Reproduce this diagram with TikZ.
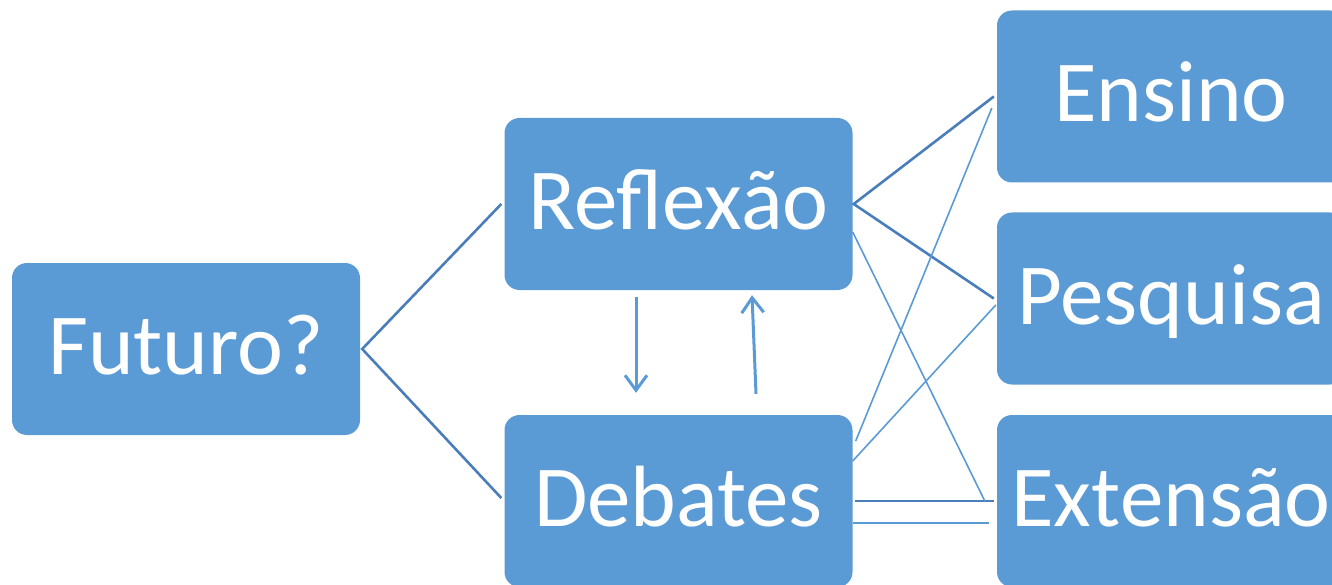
\documentclass[tikz,border=0pt]{standalone}
\usepackage{fontspec}
\setmainfont{Carlito}
\usetikzlibrary{arrows.meta}
\definecolor{boxblue}{HTML}{5B9BD5}
\definecolor{linkdark}{HTML}{4A7EBB}
\begin{document}
\begin{tikzpicture}[x=1pt,y=-1pt,
  box/.style={fill=boxblue, draw=none, rounded corners=15pt, minimum width=348pt, minimum height=172pt,
    inner sep=0pt, text=white, font=\fontsize{87}{100}\selectfont, text height=61pt, text depth=10pt},
  thicklink/.style={draw=linkdark, line width=2.6pt},
  thinlink/.style={draw=boxblue, line width=1.6pt},
  flow/.style={draw=boxblue, line width=3pt, -{Straight Barb[length=15pt,width=22pt,line width=3pt]}}]
\useasboundingbox (0,0) rectangle (1332,585);
\clip (0,0) rectangle (1332,585);
\fill[white] (0,0) rectangle (1332,585);
\node[box] (fut) at (186,349) {Futuro?};
\node[box] (refl) at (678.5,204) {Reflexão};
\node[box] (deb) at (678.5,501) {Debates};
\node[box] (ens) at (1171,96.5) {Ensino};
\node[box] (pesq) at (1171,298.5) {Pesquisa};
\node[box] (ext) at (1171,501) {Extensão};
% thick links
\draw[thicklink] ([xshift=-3pt]refl.west) -- ([xshift=2pt]fut.east) -- ([xshift=-3pt,yshift=3pt]deb.west);
\draw[thicklink] ([xshift=-3pt]ens.west) -- ([xshift=1pt]refl.east) -- ([xshift=-3pt]pesq.west);
\draw[thicklink] ([xshift=2pt]deb.east) -- ([xshift=-3pt]ext.west);
% thin links
\draw[thinlink] ([yshift=-28pt]refl.east) -- ([xshift=-12pt]ext.west);
\draw[thinlink] ([xshift=3pt,yshift=60pt]deb.east) -- ([xshift=-5pt,yshift=-11.5pt]ens.west);
\draw[thinlink] ([yshift=40pt]deb.east) -- ([xshift=-1pt,yshift=-6.5pt]pesq.west);
\draw[thinlink] ([yshift=-22pt]deb.east) -- ([xshift=-8pt,yshift=-22pt]ext.west);
% arrows between Reflexão and Debates
\draw[flow] ([xshift=-42.5pt,yshift=-7pt]refl.south) -- ([xshift=-42.5pt,yshift=22pt]deb.north);
\draw[flow] ([xshift=77.5pt,yshift=21pt]deb.north) -- ([xshift=73.5pt,yshift=-5pt]refl.south);
\end{tikzpicture}
\end{document}
